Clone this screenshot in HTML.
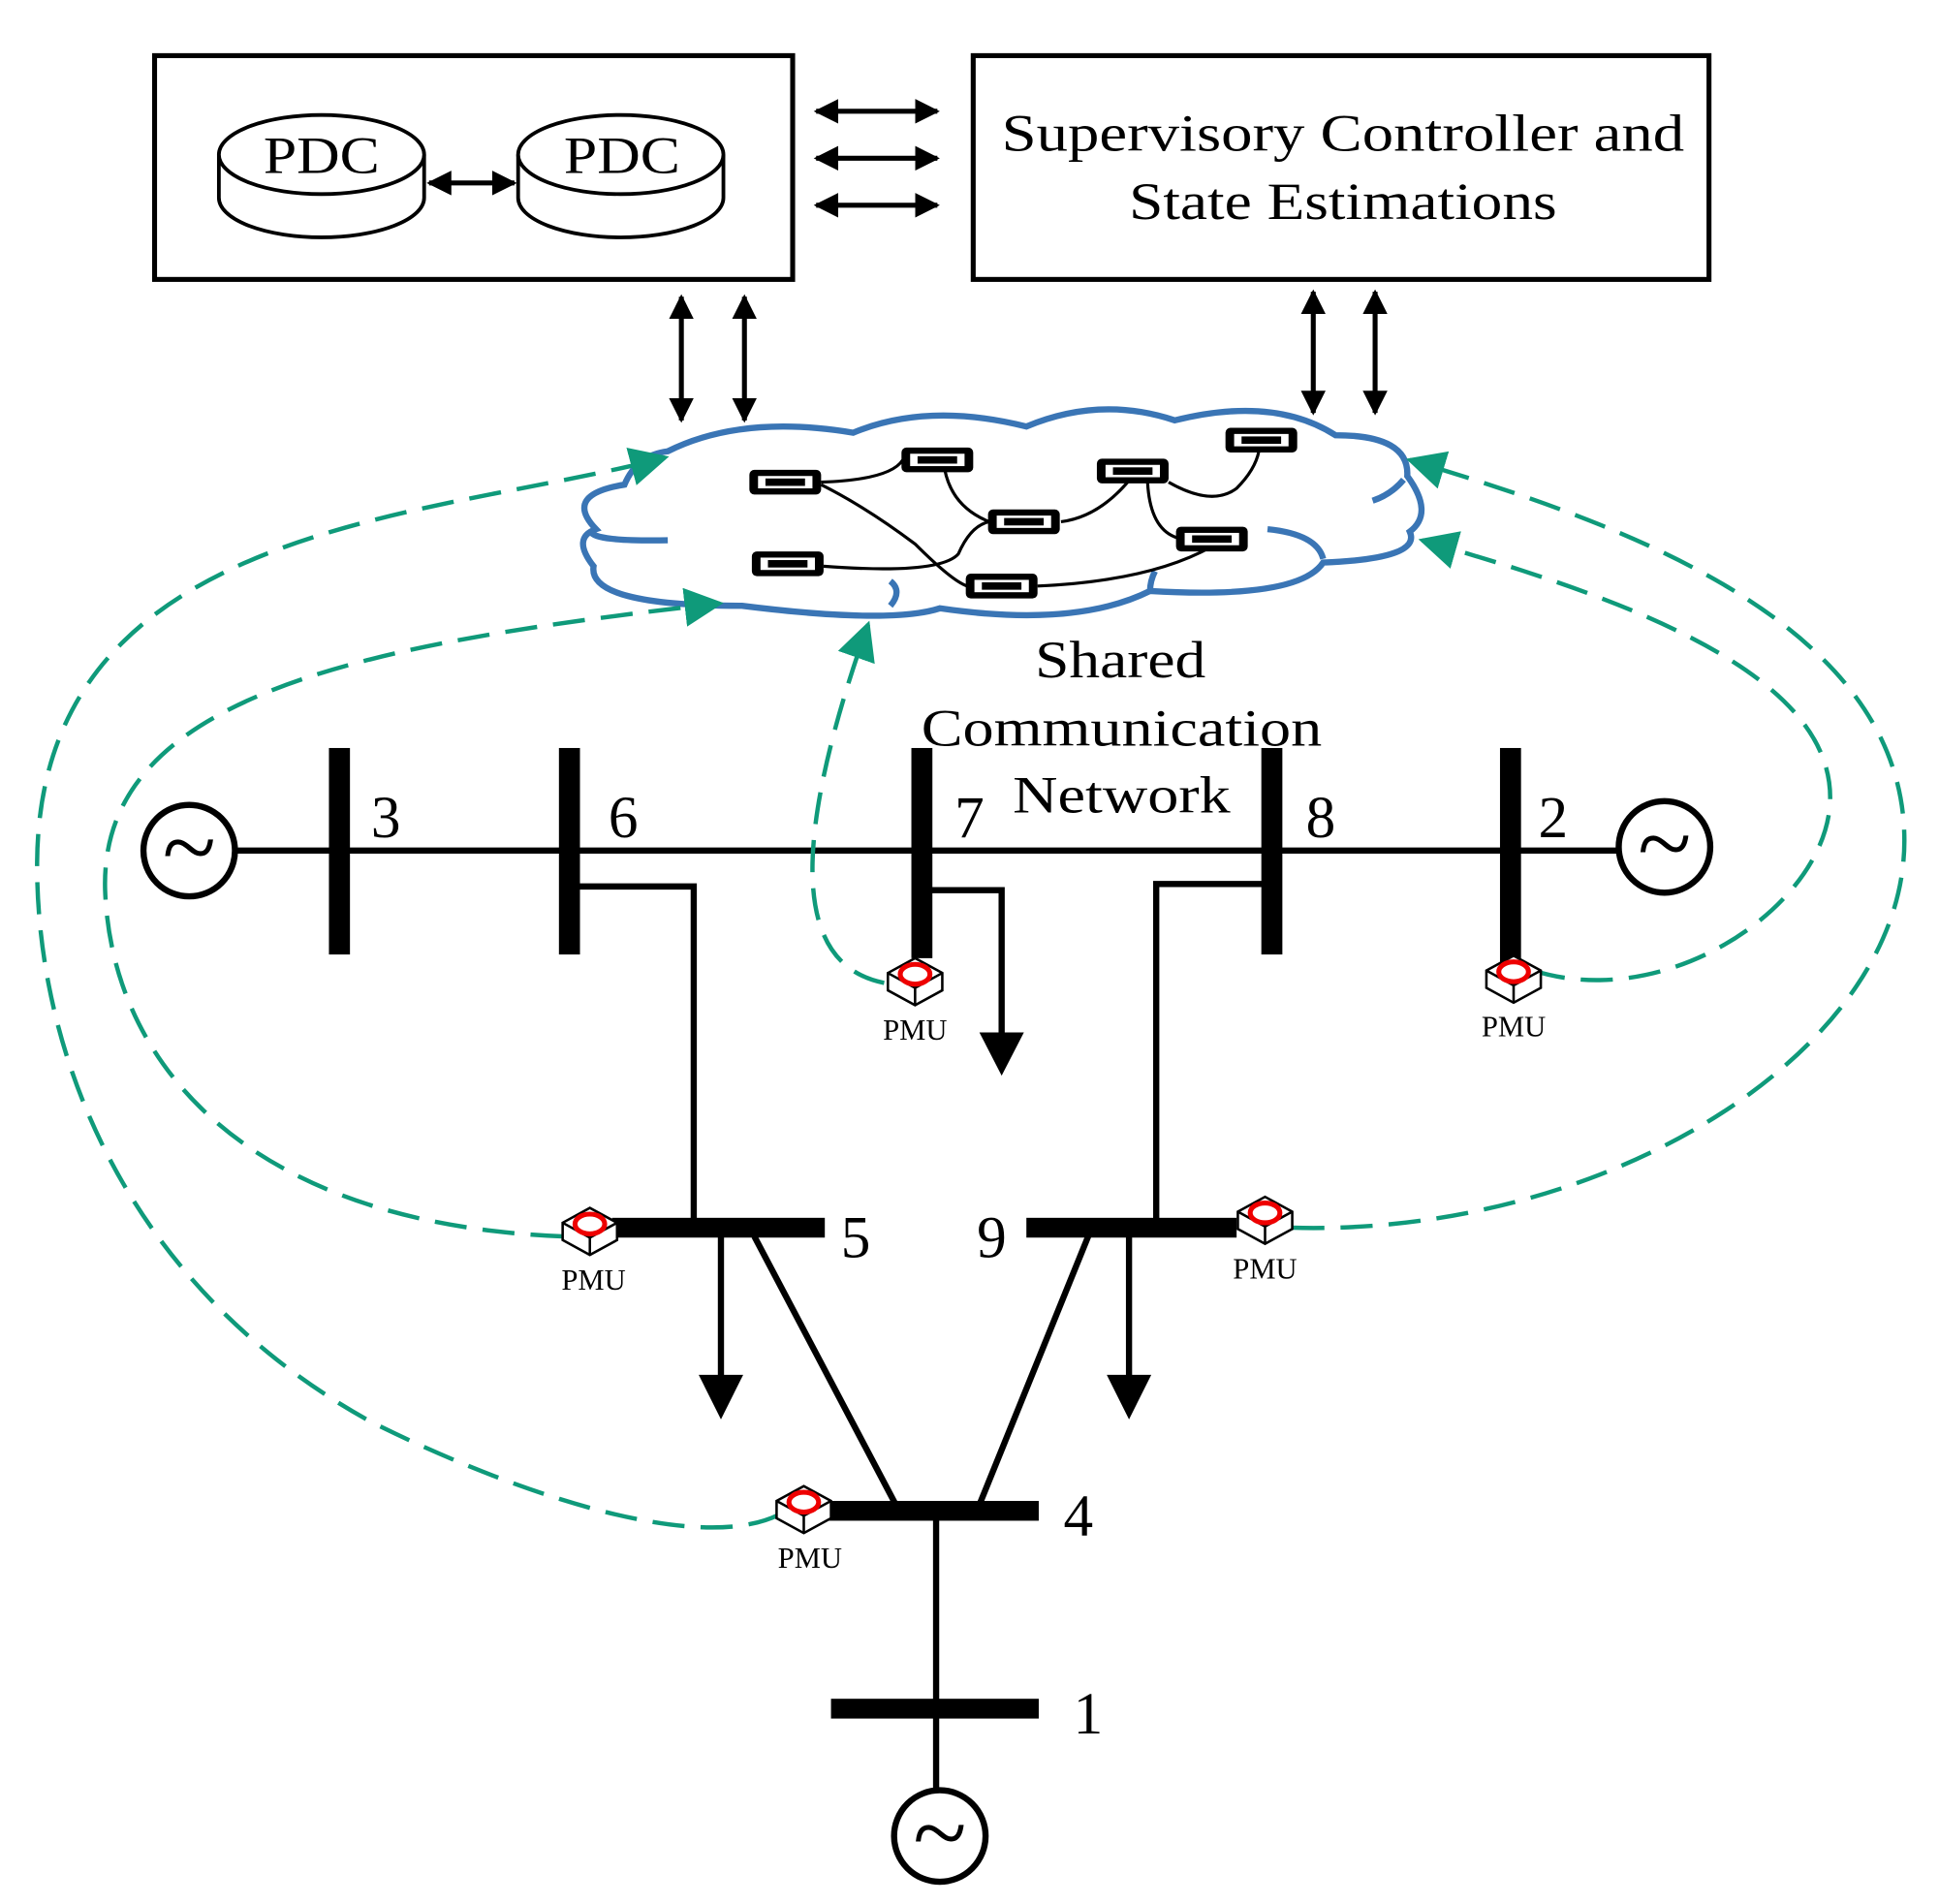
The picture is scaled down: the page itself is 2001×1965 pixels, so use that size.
<!DOCTYPE html>
<html><head><style>html,body{margin:0;padding:0;background:#fff}svg{display:block}</style></head>
<body>
<svg width="2001" height="1965" viewBox="0 0 1568 1540" preserveAspectRatio="none" xmlns="http://www.w3.org/2000/svg" font-family="Liberation Serif, serif">
<defs>
<marker id="ah" viewBox="0 0 10 10" refX="9" refY="5" markerWidth="5" markerHeight="5" orient="auto-start-reverse"><path d="M0,0 L10,5 L0,10 z" fill="#000"/></marker>
<marker id="gh" viewBox="0 0 10 10" refX="9" refY="5" markerWidth="9" markerHeight="9" markerUnits="strokeWidth" orient="auto"><path d="M0,0 L10,5 L0,10 z" fill="#0f9a7a"/></marker>
<g id="pmu"><path d="M-22,-8 L0,-20 L22,-8 L22,6 L0,18 L-22,6 Z" fill="#fff" stroke="#000" stroke-width="2"/><path d="M-22,-8 L0,4 L22,-8 M0,4 L0,18" fill="none" stroke="#000" stroke-width="2"/><ellipse cx="0" cy="-7" rx="12" ry="8" fill="#fff" stroke="#e00" stroke-width="4"/></g>
<g id="rt"><rect x="-29" y="-10" width="58" height="20" rx="4" fill="#000"/><rect x="-22" y="-5" width="44" height="10" fill="#fff"/><rect x="-16" y="-3" width="32" height="6" fill="#000"/></g>
</defs>
<rect x="125" y="45" width="516" height="181" fill="none" stroke="#000" stroke-width="4"/>
<rect x="787" y="45" width="595" height="181" fill="none" stroke="#000" stroke-width="4"/>
<g fill="#fff" stroke="#000" stroke-width="3">
<path d="M177,125 L177,160 A83,32 0 0 0 343,160 L343,125"/><ellipse cx="260" cy="125" rx="83" ry="32"/>
<path d="M419,125 L419,160 A83,32 0 0 0 585,160 L585,125"/><ellipse cx="502" cy="125" rx="83" ry="32"/>
</g>
<text x="213" y="140" font-size="42" textLength="94" lengthAdjust="spacingAndGlyphs">PDC</text>
<text x="456" y="140" font-size="42" textLength="94" lengthAdjust="spacingAndGlyphs">PDC</text>
<text x="810" y="122" font-size="42" textLength="552" lengthAdjust="spacingAndGlyphs">Supervisory Controller and</text>
<text x="913" y="177" font-size="42" textLength="346" lengthAdjust="spacingAndGlyphs">State Estimations</text>
<g stroke="#000" stroke-width="4" marker-start="url(#ah)" marker-end="url(#ah)">
<line x1="347" y1="148" x2="416" y2="148"/>
<line x1="660" y1="90" x2="758" y2="90"/><line x1="660" y1="128" x2="758" y2="128"/><line x1="660" y1="166" x2="758" y2="166"/>
<line x1="551" y1="240" x2="551" y2="340"/><line x1="602" y1="240" x2="602" y2="340"/>
<line x1="1062" y1="236" x2="1062" y2="334"/><line x1="1112" y1="236" x2="1112" y2="334"/>
</g>
<path d="M540,365 Q600,335 690,350 Q750,325 830,345 Q890,320 950,340 Q1030,320 1080,352 Q1140,352 1138,385 Q1160,415 1140,430 Q1150,452 1070,455 Q1050,485 930,478 Q870,508 760,492 Q720,505 600,490 Q475,490 480,458 Q462,435 482,428 Q455,400 505,392 Q515,368 540,365 Z" fill="#fff" stroke="#3a75b5" stroke-width="5"/>
<path d="M540,437 Q480,438 478,430 M720,490 Q730,478 720,470 M930,478 Q930,470 934,462 M1110,405 Q1125,400 1135,388 M1025,428 Q1065,432 1070,452" fill="none" stroke="#3a75b5" stroke-width="5"/>
<g fill="none" stroke="#000" stroke-width="2.5">
<path d="M664,390 Q720,388 730,372"/><path d="M664,392 Q700,410 740,440 Q770,470 782,474"/>
<path d="M764,380 Q770,410 800,422"/><path d="M666,458 Q760,465 775,448 Q785,425 800,422"/>
<path d="M858,422 Q890,418 916,385"/><path d="M945,390 Q980,410 1000,395 Q1015,380 1018,365"/>
<path d="M928,390 Q930,428 952,435"/><path d="M839,474 Q930,470 980,442"/>
</g>
<use href="#rt" x="635" y="390"/><use href="#rt" x="758" y="372"/><use href="#rt" x="828" y="422"/><use href="#rt" x="916" y="381"/><use href="#rt" x="1020" y="356"/><use href="#rt" x="980" y="436"/><use href="#rt" x="637" y="456"/><use href="#rt" x="810" y="474"/>
<text x="837" y="548" font-size="42" textLength="138" lengthAdjust="spacingAndGlyphs">Shared</text>
<text x="745" y="603" font-size="42" textLength="324" lengthAdjust="spacingAndGlyphs">Communication</text>
<text x="819" y="657" font-size="42" textLength="176" lengthAdjust="spacingAndGlyphs">Network</text>
<g stroke="#000" stroke-width="5" fill="none">
<line x1="190" y1="688" x2="1310" y2="688"/>
<path d="M461,717 H561 V993"/><path d="M745,720 H810 V840"/><path d="M1029,715 H935 V993"/>
<line x1="583" y1="1000" x2="583" y2="1115"/><line x1="913" y1="1000" x2="913" y2="1115"/>
<line x1="610" y1="1000" x2="727" y2="1222"/><line x1="880" y1="1000" x2="790" y2="1222"/>
<line x1="757" y1="1222" x2="757" y2="1382"/><line x1="757" y1="1382" x2="757" y2="1448"/>
<circle cx="153" cy="688" r="37"/><circle cx="1346" cy="685" r="37"/><circle cx="760" cy="1485" r="37"/>
</g>
<g fill="#000"><path d="M792,835 L828,835 L810,870 Z"/><path d="M565,1112 L601,1112 L583,1148 Z"/><path d="M895,1112 L931,1112 L913,1148 Z"/></g>
<g font-size="80" text-anchor="middle"><text x="153" y="712">~</text><text x="1346" y="709">~</text><text x="760" y="1509">~</text></g>
<g fill="#000">
<rect x="266" y="605" width="17" height="167"/><rect x="452" y="605" width="17" height="167"/><rect x="737" y="605" width="17" height="170"/><rect x="1020" y="605" width="17" height="167"/><rect x="1213" y="605" width="17" height="185"/>
<rect x="495" y="985" width="172" height="16"/><rect x="830" y="985" width="170" height="16"/><rect x="670" y="1214" width="170" height="16"/><rect x="672" y="1374" width="168" height="16"/>
</g>
<g font-size="48"><text x="300" y="677">3</text><text x="492" y="677">6</text><text x="772" y="677">7</text><text x="1056" y="677">8</text><text x="1244" y="677">2</text>
<text x="680" y="1017">5</text><text x="790" y="1017">9</text><text x="860" y="1242">4</text><text x="868" y="1402">1</text></g>
<g fill="none" stroke="#0f9a7a" stroke-width="3.5" stroke-dasharray="26,13" marker-end="url(#gh)">
<path d="M715,795 C640,780 640,680 702,505"/>
<path d="M1240,785 C1350,820 1480,730 1480,645 C1480,540 1300,480 1150,437"/>
<path d="M1045,993 C1300,1000 1540,850 1540,680 C1540,500 1300,420 1140,372"/>
<path d="M455,1000 C200,990 90,860 85,720 C80,560 300,520 582,488"/>
<path d="M630,1225 C560,1260 400,1200 300,1150 C100,1040 30,850 30,700 C30,420 350,420 538,370"/>
</g>
<use href="#pmu" x="740" y="795"/><use href="#pmu" x="1224" y="793"/><use href="#pmu" x="477" y="997"/><use href="#pmu" x="1023" y="988"/><use href="#pmu" x="650" y="1222"/>
<g font-size="24" text-anchor="middle"><text x="740" y="841">PMU</text><text x="1224" y="838">PMU</text><text x="480" y="1043">PMU</text><text x="1023" y="1034">PMU</text><text x="655" y="1268">PMU</text></g>
</svg>
</body></html>
